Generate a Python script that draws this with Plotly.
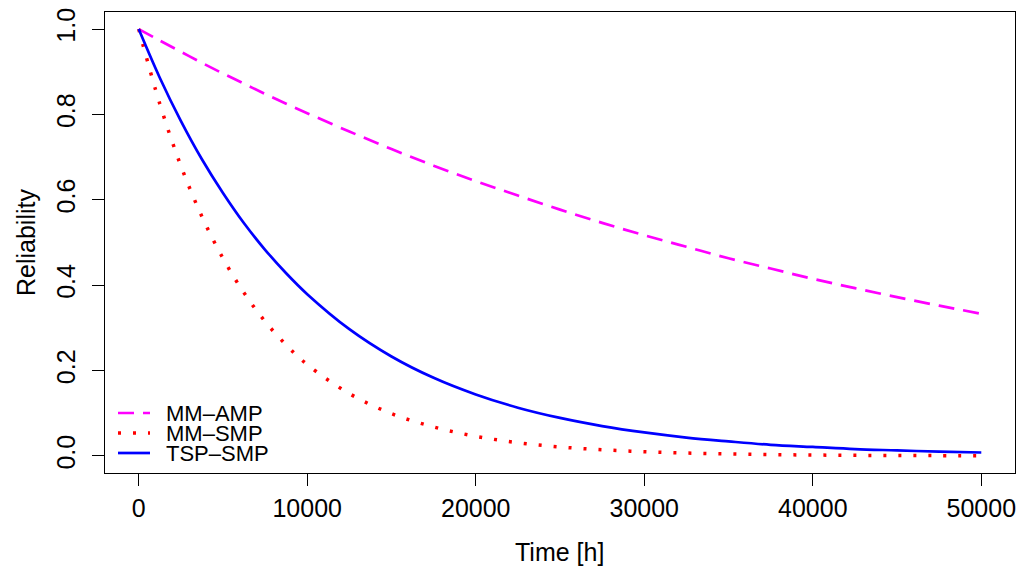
import plotly.graph_objects as go

# ---- data ----
time_h = [0, 1250, 2500, 3750, 5000, 6250, 7500, 8750, 10000, 12500, 15000, 17500,
          20000, 22500, 25000, 27500, 30000, 32500, 35000, 37500, 40000, 42500,
          45000, 47500, 50000]

mm_amp = [1.0, 0.973, 0.947, 0.921, 0.896, 0.872, 0.848, 0.825, 0.803, 0.760, 0.719, 0.680,
          0.644, 0.610, 0.577, 0.546, 0.517, 0.490, 0.463, 0.439, 0.415, 0.393,
          0.372, 0.352, 0.333]

mm_smp = [1.0, 0.825, 0.680, 0.561, 0.463, 0.382, 0.315, 0.260, 0.214, 0.146, 0.099, 0.068,
          0.046, 0.031, 0.021, 0.0145, 0.0099, 0.0067, 0.0046, 0.0031, 0.0021, 0.0014,
          0.0010, 0.0007, 0.0005]

tsp_smp = [1.0, 0.886, 0.785, 0.695, 0.616, 0.545, 0.483, 0.428, 0.379, 0.297, 0.233, 0.183,
           0.144, 0.113, 0.089, 0.070, 0.055, 0.043, 0.034, 0.026, 0.021, 0.016,
           0.013, 0.010, 0.008]

series_names = ["MM\u2013AMP", "MM\u2013SMP", "TSP\u2013SMP"]
x_ticks = [0, 10000, 20000, 30000, 40000, 50000]
y_ticks = [0.0, 0.2, 0.4, 0.6, 0.8, 1.0]

# ---- styling ----
W, H = 1020, 569
# target plot box on the page: x 105..1015, y 12..473
L, T = 105, 12
R = W - 1015
B = H - 473
PW, PH = W - L - R, H - T - B
FONT = "Liberation Sans, Arial, Helvetica, sans-serif"

styles = [
    dict(color="#FF00FF", width=2.7, dash="16px,9px"),
    dict(color="#FF0000", width=3.5, dash="3px,12px"),
    dict(color="#0000FF", width=2.7, dash="solid"),
]


def px_x(px):
    return (px - L) / PW


def px_y(py):
    return (H - B - py) / PH


fig = go.Figure()
for name, ys, st in zip(series_names, [mm_amp, mm_smp, tsp_smp], styles):
    fig.add_trace(go.Scatter(x=time_h, y=ys, mode="lines", name=name,
                             line=dict(shape="spline", smoothing=1.0, **st),
                             showlegend=False, hoverinfo="skip"))

# custom legend (R style, no box)
legend_rows = [413, 433, 453]
for name, st, ry in zip(series_names, styles, legend_rows):
    fig.add_shape(type="line", xref="paper", yref="paper",
                  x0=px_x(118), x1=px_x(150), y0=px_y(ry), y1=px_y(ry),
                  line=dict(color=st["color"], width=st["width"], dash=st["dash"]))
    fig.add_annotation(xref="paper", yref="paper", x=px_x(165), y=px_y(ry),
                       text=name, showarrow=False, xanchor="left", yanchor="middle",
                       height=20, valign="middle", borderpad=0,
                       font=dict(family=FONT, size=22, color="black"))

# axis titles
fig.add_annotation(xref="paper", yref="paper", x=px_x(559), y=px_y(552),
                   text="Time [h]", showarrow=False, xanchor="center", yanchor="middle",
                   font=dict(family=FONT, size=25, color="black"))
fig.add_annotation(xref="paper", yref="paper", x=px_x(26), y=px_y(243),
                   text="Reliability", showarrow=False, xanchor="center", yanchor="middle",
                   textangle=-90, font=dict(family=FONT, size=25, color="black"))

axis_common = dict(showgrid=False, zeroline=False, showline=True, linecolor="black",
                   linewidth=1, mirror=True, ticks="outside", ticklen=12, tickcolor="black",
                   tickwidth=1, ticklabeloverflow="allow",
                   tickfont=dict(family=FONT, size=25, color="black"))

fig.update_xaxes(range=[-2000, 52000], tickvals=x_ticks,
                 ticktext=[str(v) for v in x_ticks], ticklabelstandoff=1, **axis_common)
fig.update_yaxes(range=[-0.04, 1.04], tickvals=y_ticks,
                 ticktext=[f"{v:.1f}" for v in y_ticks], tickangle=-90,
                 ticklabelstandoff=7, **axis_common)

fig.update_layout(width=W, height=H, margin=dict(l=L, r=R, t=T, b=B, autoexpand=False),
                  plot_bgcolor="white", paper_bgcolor="white", hovermode=False,
                  font=dict(family=FONT, color="black"))

# remove the default page margin so the figure fills the window exactly
fig.write_html("out.html", config={"displayModeBar": False},
               post_script="document.body.style.margin='0';document.body.style.overflow='hidden';")
